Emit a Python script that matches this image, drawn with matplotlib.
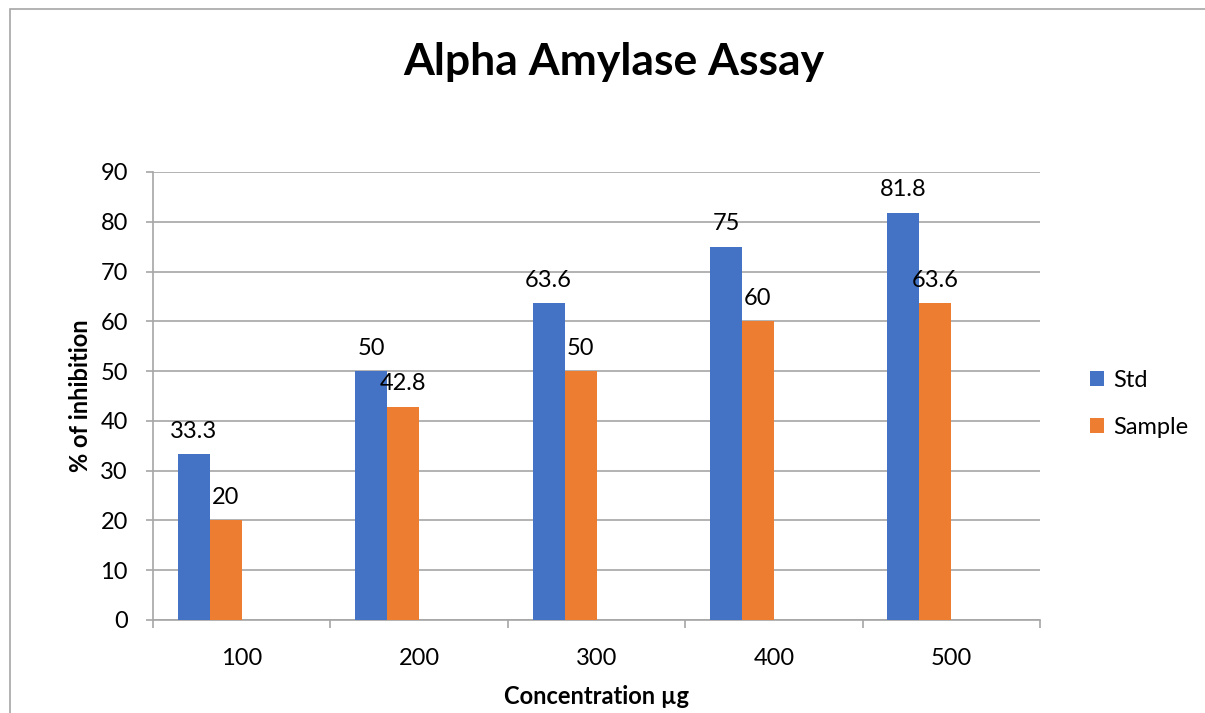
import numpy as np
import matplotlib.pyplot as plt
from matplotlib.patches import Rectangle

concentracoes = ["100", "200", "300", "400", "500"]
std = [33.3, 50, 63.6, 75, 81.8]
amostra = [20, 42.8, 50, 60, 63.6]
rotulos_std = ["33.3", "50", "63.6", "75", "81.8"]
rotulos_amostra = ["20", "42.8", "50", "60", "63.6"]

azul = "#4472C4"
laranja = "#ED7D31"
cinza = "#A6A6A6"

plt.rcParams['font.family'] = ['Lato', 'DejaVu Sans']

fig = plt.figure(figsize=(12.05, 7.13), dpi=100)
ax = fig.add_axes([153 / 1205, 1 - 620 / 713, (1040 - 153) / 1205, (620 - 172) / 713])

# moldura do grafico
fig.patches.append(Rectangle((10 / 1205, -0.1), 1.2, 1 - 9 / 713 + 0.1,
                             transform=fig.transFigure, fill=False,
                             edgecolor=cinza, linewidth=1.2))

x = np.arange(len(concentracoes))
largura = 0.18
b1 = ax.bar(x - 0.27, std, largura, color=azul, label="Std", zorder=3)
b2 = ax.bar(x - 0.09, amostra, largura, color=laranja, label="Sample", zorder=3)

for barras, rotulos in [(b1, rotulos_std), (b2, rotulos_amostra)]:
    for barra, txt in zip(barras, rotulos):
        ax.annotate(txt, (barra.get_x() + barra.get_width() / 2, barra.get_height()),
                    xytext=(0, 9), textcoords="offset points", ha="center",
                    va="bottom", fontsize=17)

ax.set_xlim(-0.5, 4.5)
ax.set_ylim(0, 90)
ax.set_yticks(range(0, 91, 10))
ax.set_xticks(x)
ax.set_xticklabels(concentracoes)
ax.set_xticks(np.arange(-0.5, 4.6, 1), minor=True)
ax.tick_params(axis="x", which="major", length=0, labelsize=17, pad=20)
ax.tick_params(axis="x", which="minor", length=6, color=cinza, width=1.2)
ax.tick_params(axis="y", length=5, color=cinza, width=1.2, labelsize=17, pad=13)
ax.grid(axis="y", color=cinza, linewidth=1.2, zorder=0)

for lado in ["top", "right"]:
    ax.spines[lado].set_visible(False)
for lado in ["left", "bottom"]:
    ax.spines[lado].set_color(cinza)
    ax.spines[lado].set_linewidth(1.2)

ax.set_ylabel("% of inhibition", fontsize=17, fontweight="bold", labelpad=6)
ax.set_xlabel("Concentration µg", fontsize=17, fontweight="bold", labelpad=12)
fig.text(614 / 1205, 1 - 62 / 713, "Alpha Amylase Assay", fontsize=32,
         fontweight="bold", ha="center", va="center")

ax.legend(loc="center left", bbox_to_anchor=(1.032, 0.482), frameon=False,
          fontsize=17, handlelength=0.6, handleheight=0.6, handletextpad=0.4,
          labelspacing=1.1)

fig.savefig("out.png", dpi=100)
